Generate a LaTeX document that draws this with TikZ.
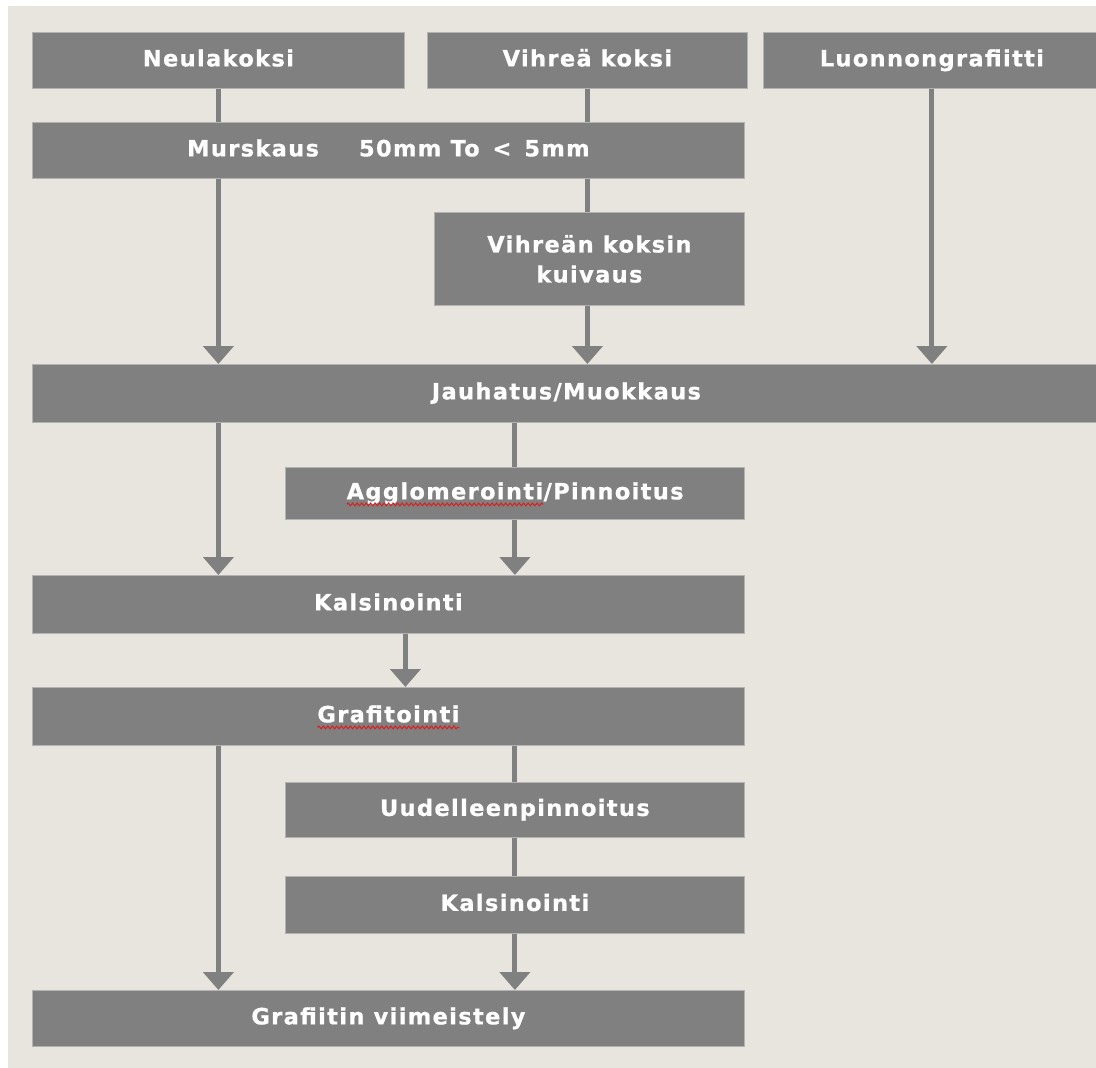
\documentclass[tikz,border=0pt]{standalone}
\usepackage{fontspec}
\setmainfont{DejaVu Sans}
\newfontfamily\boxfamily[LetterSpace=6, BoldFeatures={FakeBold=0.8}]{DejaVu Sans}
\usetikzlibrary{arrows.meta,decorations.pathmorphing}
\definecolor{bgbeige}{RGB}{232,229,222}
\definecolor{boxgray}{RGB}{128,128,128}
\definecolor{boxedge}{RGB}{178,178,178}
\definecolor{squig}{RGB}{220,30,30}
\newcommand\sq[1]{\tikz[baseline=(w.base)]{\node[inner sep=0pt, outer sep=0pt, minimum width=0pt,
    minimum height=0pt, text height=, text depth=, draw=none, fill=none, text=white] (w) {#1};
  \draw[squig, line width=1pt, decorate, decoration={snake,amplitude=1.4pt,segment length=4.5pt}]
    ([yshift=-5pt]w.base west) -- ([yshift=-5pt]w.base east);}}
\newcommand\boxtext{\boxfamily\bfseries\fontsize{22.5}{30}\selectfont}
\tikzset{
  pboxm/.style={draw=boxedge, line width=0.8pt, fill=boxgray, text=white,
    font=\boxtext, inner sep=0pt, anchor=north west, align=center},
  pbox/.style={pboxm, text height=16.5pt, text depth=4.5pt},
  conn/.style={line width=5pt, draw=boxgray},
  arr/.style={conn, -{Triangle[width=30pt,length=18pt]}}
}
\begin{document}
\begin{tikzpicture}[x=1pt,y=-1pt]
\useasboundingbox (0,0) rectangle (1096,1068);
\fill[white] (0,0) rectangle (1096,1068);
\fill[bgbeige] (8,6) rectangle (1096,1068);
% boxes
\node[pbox, minimum width=372pt, minimum height=56pt] (neula) at (32,32) {Neulakoksi};
\node[pbox, minimum width=320pt, minimum height=56pt] (vihrea) at (427,32) {Vihreä koksi};
\node[pbox, minimum width=337pt, minimum height=56pt] (luonto) at (763,32) {Luonnongrafiitti};
\node[pbox, minimum width=712pt, minimum height=56pt] (murskaus) at (32,122) {Murskaus\hspace{40pt}50mm To \,<\, 5mm};
\node[pboxm, minimum width=310pt, minimum height=93pt] (kuivaus) at (434,212) {Vihreän koksin\\kuivaus};
\node[pbox, minimum width=1068pt, minimum height=58pt] (jauh) at (32,364) {Jauhatus/Muokkaus};
\node[pbox, minimum width=459pt, minimum height=52pt] (aggl) at (285,467) {\sq{Agglomerointi}/Pinnoitus};
\node[pbox, minimum width=712pt, minimum height=58pt] (kals1) at (32,575) {Kalsinointi};
\node[pbox, minimum width=712pt, minimum height=58pt] (graf) at (32,687) {\sq{Grafitointi}};
\node[pbox, minimum width=459pt, minimum height=55pt] (uud) at (285,782) {Uudelleenpinnoitus};
\node[pbox, minimum width=459pt, minimum height=57pt] (kals2) at (285,876) {Kalsinointi};
\node[pbox, minimum width=712pt, minimum height=56pt] (viim) at (32,990) {Grafiitin viimeistely};
% connectors
\draw[conn] (neula.south) -- (murskaus.north -| neula.south);
\draw[arr] (murskaus.south -| neula.south) -- (jauh.north -| neula.south);
\draw[conn] (vihrea.south) -- (murskaus.north -| vihrea.south);
\draw[conn] (murskaus.south -| vihrea.south) -- (kuivaus.north -| vihrea.south);
\draw[arr] (kuivaus.south -| vihrea.south) -- (jauh.north -| vihrea.south);
\draw[arr] (luonto.south) -- (jauh.north -| luonto.south);
\draw[arr] (jauh.south -| neula.south) -- (kals1.north -| neula.south);
\draw[conn] (jauh.south -| aggl.north) -- (aggl.north);
\draw[arr] (aggl.south) -- (kals1.north -| aggl.south);
\coordinate (kx) at ([xshift=17pt]kals1.south);
\draw[arr] (kx) -- (graf.north -| kx);
\draw[arr] (graf.south -| neula.south) -- (viim.north -| neula.south);
\draw[conn] (graf.south -| uud.north) -- (uud.north);
\draw[conn] (uud.south) -- (kals2.north);
\draw[arr] (kals2.south) -- (viim.north -| kals2.south);
\end{tikzpicture}
\end{document}
